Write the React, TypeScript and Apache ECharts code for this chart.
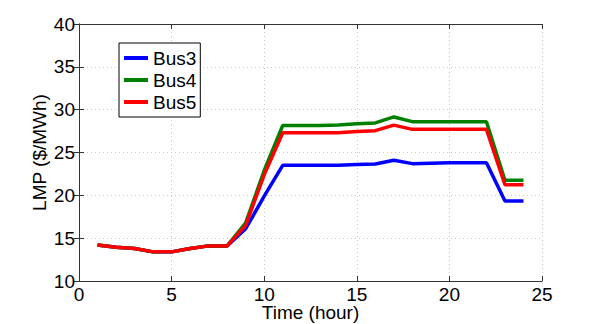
import React, { useEffect, useRef } from "react";
import * as echarts from "echarts";

const hours = [1, 2, 3, 4, 5, 6, 7, 8, 9, 10, 11, 12, 13, 14, 15, 16, 17, 18, 19, 20, 21, 22, 23, 24];
const bus3 = [14.2, 13.95, 13.8, 13.4, 13.4, 13.8, 14.1, 14.1, 16.1, 19.9, 23.5, 23.5, 23.5, 23.5, 23.6, 23.65, 24.1, 23.7, 23.75, 23.8, 23.8, 23.8, 19.35, 19.35];
const bus4 = [14.2, 13.95, 13.8, 13.4, 13.4, 13.8, 14.1, 14.1, 16.8, 22.9, 28.15, 28.15, 28.15, 28.2, 28.35, 28.45, 29.15, 28.6, 28.6, 28.6, 28.6, 28.6, 21.75, 21.75];
const bus5 = [14.2, 13.95, 13.8, 13.4, 13.4, 13.8, 14.1, 14.1, 16.5, 22.4, 27.3, 27.3, 27.3, 27.3, 27.45, 27.55, 28.2, 27.7, 27.7, 27.7, 27.7, 27.7, 21.25, 21.25];
const seriesNames = ["Bus3", "Bus4", "Bus5"];
const seriesColors = ["#0000ff", "#008000", "#ff0000"];

export default function App() {
  const ref = useRef<HTMLDivElement>(null);
  useEffect(() => {
    const chart = echarts.init(ref.current!, null, { renderer: "svg" });
    const font = "Liberation Sans, Arial, Helvetica, sans-serif";
    const datas = [bus3, bus4, bus5];
    const axisCommon = {
      axisLine: { show: true, lineStyle: { color: "#333", width: 1 } },
      axisTick: { show: true, inside: true, length: 5, lineStyle: { color: "#333" } },
    };
    chart.setOption({
      animation: false,
      grid: { left: 79, right: 57, top: 24, bottom: 43, outerBoundsMode: "none", containLabel: false },
      legend: {
        orient: "vertical",
        left: 119,
        top: 43,
        data: seriesNames,
        icon: "rect",
        itemWidth: 24,
        itemHeight: 4,
        itemGap: 2,
        padding: [5, 4, 5, 5],
        borderColor: "#000",
        borderWidth: 1,
        backgroundColor: "#fff",
        textStyle: { fontFamily: font, fontSize: 19, lineHeight: 20, color: "#000" },
      },
      xAxis: [
        {
          type: "value",
          min: 0,
          max: 25,
          interval: 5,
          name: "Time (hour)",
          nameLocation: "middle",
          nameGap: 22,
          nameMoveOverlap: false,
          nameTextStyle: { fontFamily: font, fontSize: 19, color: "#000" },
          axisLabel: { fontFamily: font, fontSize: 19, color: "#000", margin: 4 },
          splitLine: { show: true, lineStyle: { color: "#c8c8c8", type: [1, 3], width: 1 } },
          ...axisCommon,
        },
        {
          type: "value",
          position: "top",
          min: 0,
          max: 25,
          interval: 5,
          axisLabel: { show: false },
          splitLine: { show: false },
          ...axisCommon,
        },
      ],
      yAxis: [
        {
          type: "value",
          min: 10,
          max: 40,
          interval: 5,
          name: "LMP ($/MWh)",
          nameLocation: "middle",
          nameGap: 30,
          nameMoveOverlap: false,
          nameTextStyle: { fontFamily: font, fontSize: 19, color: "#000" },
          axisLabel: { fontFamily: font, fontSize: 19, color: "#000", margin: 4 },
          splitLine: { show: true, lineStyle: { color: "#c8c8c8", type: [1, 3], width: 1 } },
          ...axisCommon,
        },
        {
          type: "value",
          position: "right",
          min: 10,
          max: 40,
          interval: 5,
          axisLabel: { show: false },
          splitLine: { show: false },
          ...axisCommon,
        },
      ],
      series: datas.map((d, i) => ({
        name: seriesNames[i],
        type: "line",
        data: hours.map((h, j) => [h, d[j]]),
        symbol: "none",
        itemStyle: { color: seriesColors[i] },
        lineStyle: { color: seriesColors[i], width: 3.5 },
      })),
    });
    return () => chart.dispose();
  }, []);
  return (
    <div
      ref={ref}
      style={{ position: "absolute", left: 0, top: 0, width: 599, height: 324, background: "#fff" }}
    />
  );
}
